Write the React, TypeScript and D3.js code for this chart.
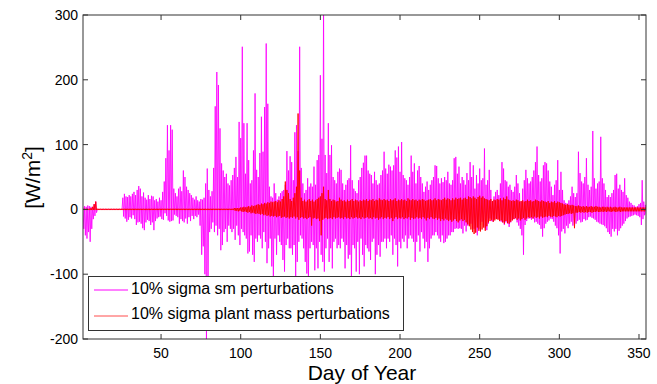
import React from 'react';
import * as d3 from 'd3';

// Daily envelopes (max / min) of the two perturbation series, day 1..354, [W/m^2]
const smMax: number[] = [
  3,5,4,6,5,4,3,8,12,0,
  0,0,0,0,0,0,0,0,0,0,
  0,0,0,0,0,18,24,20,19,22,
  20,24,27,22,30,36,32,20,26,18,
  15,22,16,21,20,14,16,12,18,14,
  27,43,79,130,91,130,123,32,25,20,
  32,35,28,60,50,35,30,25,22,18,
  15,20,14,12,16,15,18,40,63,30,
  20,28,64,159,212,192,125,71,60,50,
  55,40,37,45,53,64,81,50,135,110,
  251,133,55,133,76,40,45,91,179,61,
  50,87,143,89,158,256,163,35,20,18,
  40,25,15,20,25,28,30,38,90,60,
  82,73,45,119,130,90,251,64,40,25,
  30,48,35,40,35,66,38,76,84,207,
  109,320,84,56,133,84,99,50,45,40,
  58,63,61,40,30,38,45,48,99,45,
  32,28,25,45,50,64,72,83,83,60,
  55,53,40,58,45,38,40,53,60,89,
  63,55,69,66,60,68,91,80,97,58,
  104,53,48,45,38,50,83,58,71,40,
  60,67,50,40,27,35,43,30,38,45,
  50,68,67,48,40,48,42,50,45,58,
  40,38,45,79,81,55,66,40,50,45,
  38,56,45,73,50,68,32,53,40,63,
  45,48,94,38,45,61,30,12,20,27,
  30,22,40,73,63,45,43,35,38,30,
  27,35,53,40,25,12,32,45,61,48,
  40,43,50,60,73,97,53,43,48,68,
  73,71,60,43,35,22,38,45,76,30,
  58,30,14,10,9,14,20,35,25,19,
  25,89,56,43,40,50,79,38,30,35,
  121,48,32,40,43,112,48,40,30,19,
  22,19,25,30,53,55,32,38,30,27,
  48,22,18,12,10,7,6,4,5,8,
  10,45,12,7,
];

const smMin: number[] = [
  -30,-40,-45,-35,-50,-30,-15,-10,-5,0,
  0,0,0,0,0,0,0,0,0,0,
  0,0,0,0,0,-11,-14,-19,-16,-12,
  -14,-9,-15,-24,-20,-19,-22,-29,-32,-20,
  -16,-18,-24,-20,-32,-18,-14,-12,-11,-15,
  -16,-6,-10,-17,-19,-18,-17,-8,-10,-12,
  -22,-15,-18,-20,-14,-22,-12,-18,-10,-15,
  -10,-12,-8,-25,-70,-57,-100,-200,-110,-35,
  -30,-20,-35,-25,-40,-30,-63,-55,-35,-30,
  -50,-25,-30,-35,-30,-47,-25,-40,-55,-30,
  -35,-40,-45,-68,-65,-40,-70,-81,-45,-50,
  -40,-45,-60,-35,-50,-83,-60,-45,-88,-110,
  -45,-70,-40,-50,-55,-78,-96,-55,-45,-60,
  -60,-70,-55,-110,-81,-50,-40,-45,-60,-81,
  -99,-110,-60,-50,-55,-94,-60,-91,-50,-70,
  -81,-96,-60,-45,-81,-60,-91,-50,-45,-60,
  -55,-60,-45,-50,-91,-55,-76,-70,-110,-55,
  -60,-96,-50,-100,-45,-70,-88,-55,-60,-65,
  -78,-50,-45,-100,-70,-55,-73,-50,-50,-45,
  -60,-45,-50,-40,-70,-45,-55,-88,-50,-60,
  -45,-50,-40,-60,-45,-40,-45,-50,-81,-50,
  -40,-65,-35,-45,-60,-50,-81,-60,-45,-40,
  -40,-35,-40,-45,-50,-40,-52,-50,-45,-40,
  -40,-35,-35,-30,-29,-30,-29,-30,-37,-25,
  -34,-25,-24,-22,-29,-30,-35,-40,-30,-24,
  -19,-25,-29,-32,-22,-14,-18,-19,-15,-14,
  -15,-18,-19,-20,-24,-20,-22,-27,-20,-16,
  -15,-14,-20,-25,-30,-40,-70,-24,-18,-14,
  -14,-16,-14,-20,-19,-22,-24,-30,-42,-29,
  -22,-19,-17,-14,-15,-19,-25,-29,-40,-68,
  -34,-30,-37,-25,-29,-22,-19,-25,-20,-22,
  -18,-16,-20,-19,-15,-17,-16,-12,-11,-13,
  -14,-16,-19,-20,-22,-23,-24,-26,-29,-35,
  -38,-42,-30,-34,-30,-40,-33,-29,-25,-22,
  -18,-14,-12,-11,-10,-9,-8,-9,-10,-12,
  -24,-15,-9,-8,
];

const pmMax: number[] = [
  1,1,1,1,1,2,4,8,12,1,
  1,1,1,1,1,1,1,1,1,1,
  1,1,1,1,1,1,1,1,1,1,
  1,1,1,1,1,1,1,1,1,1,
  1,1,1,1,1,1,1,1,1,1,
  1,1,1,1,1,1,1,1,1,1,
  1,1,1,1,1,1,1,1,1,1,
  1,1,1,1,1,1,1,1,1,1,
  1,1,1,1,1,1,1,1,1,1,
  1,1,1,1,1,2,2,2,2,3,
  3,4,3,4,5,4,6,5,6,7,
  8,7,9,8,10,9,11,10,12,11,
  12,13,11,14,12,16,20,43,30,25,
  16,13,18,25,35,148,60,18,13,15,
  12,14,16,13,15,12,14,16,18,20,
  25,35,16,14,30,16,13,15,14,12,
  13,18,15,13,14,12,15,13,14,16,
  13,15,14,12,14,13,15,14,16,13,
  15,14,16,13,15,14,17,15,14,16,
  14,15,13,16,14,15,17,13,15,14,
  16,14,15,13,17,15,14,16,14,15,
  13,15,14,16,15,13,14,15,16,14,
  15,17,14,16,15,14,16,18,15,17,
  16,14,17,15,18,16,17,18,15,17,
  18,16,20,19,17,20,18,16,19,21,
  18,20,17,16,15,14,16,13,15,14,
  16,15,17,14,18,16,20,15,14,13,
  14,13,15,14,12,13,14,12,13,15,
  13,14,12,13,15,14,13,12,14,13,
  12,11,13,10,12,11,13,10,12,11,
  10,9,8,7,8,7,6,7,6,5,
  5,6,5,4,5,4,5,4,4,5,
  4,4,5,4,4,3,4,4,3,4,
  3,4,3,3,4,3,3,4,3,3,
  3,3,3,3,3,3,3,3,3,3,
  3,3,3,3,
];

const pmMin: number[] = [
  -1,-1,-1,-1,-1,-1,-1,-1,-1,-1,
  -1,-1,-1,-1,-1,-1,-1,-1,-1,-1,
  -1,-1,-1,-1,-1,-1,-1,-1,-1,-1,
  -1,-1,-1,-1,-1,-1,-1,-1,-1,-1,
  -1,-1,-1,-1,-1,-1,-1,-1,-1,-1,
  -1,-1,-1,-1,-1,-1,-1,-1,-1,-1,
  -1,-1,-1,-1,-1,-1,-1,-1,-1,-1,
  -1,-1,-1,-1,-1,-1,-1,-1,-1,-1,
  -1,-1,-1,-1,-1,-1,-1,-1,-1,-1,
  -1,-1,-1,-1,-1,-2,-2,-3,-2,-3,
  -4,-3,-4,-5,-4,-6,-5,-6,-7,-6,
  -7,-8,-7,-9,-8,-10,-9,-11,-10,-11,
  -10,-12,-11,-10,-13,-12,-11,-13,-12,-14,
  -12,-13,-11,-14,-12,-16,-13,-12,-14,-13,
  -15,-13,-12,-25,-14,-13,-15,-14,-18,-40,
  -16,-14,-13,-15,-14,-13,-15,-12,-14,-13,
  -12,-14,-13,-15,-12,-14,-13,-15,-12,-14,
  -13,-12,-14,-13,-15,-12,-14,-13,-12,-14,
  -13,-15,-12,-14,-13,-16,-14,-12,-15,-13,
  -14,-12,-15,-13,-18,-14,-12,-15,-13,-14,
  -12,-15,-13,-14,-12,-16,-13,-15,-14,-12,
  -14,-13,-15,-12,-14,-17,-13,-15,-12,-14,
  -15,-13,-16,-14,-18,-15,-17,-14,-16,-18,
  -16,-19,-17,-15,-18,-20,-17,-15,-18,-16,
  -20,-23,-26,-31,-35,-38,-36,-28,-33,-34,
  -31,-28,-33,-26,-20,-18,-16,-19,-17,-15,
  -16,-18,-17,-20,-22,-18,-21,-22,-19,-17,
  -15,-13,-16,-14,-17,-15,-13,-16,-14,-12,
  -13,-12,-14,-11,-13,-12,-14,-11,-13,-12,
  -11,-12,-10,-11,-12,-10,-11,-12,-10,-11,
  -10,-9,-8,-7,-7,-6,-7,-6,-29,-5,
  -5,-4,-5,-4,-5,-4,-5,-4,-4,-5,
  -4,-4,-3,-4,-4,-3,-4,-3,-4,-3,
  -3,-4,-3,-3,-4,-3,-3,-4,-3,-3,
  -3,-3,-3,-3,-3,-3,-3,-3,-3,-3,
  -3,-3,-3,-3,
];

const xTicks = [50, 100, 150, 200, 250, 300, 350];
const yTicks = [-200, -100, 0, 100, 200, 300];
const seriesNames = ['10% sigma sm perturbations', '10% sigma plant mass perturbations'];
const seriesColors = ['#ff00ff', '#ff0000'];

const W = 657, H = 384;
const L = 83, R = 646, T = 15, B = 339;
const FONT = '"Liberation Sans", Arial, Helvetica, sans-serif';
const AX = '#333333';

export default function App() {
  const x = d3.scaleLinear().domain([1, 354.4]).range([L, R]);
  const y = d3.scaleLinear().domain([-200, 300]).range([B, T]);

  const zig = (mx: number[], mn: number[]) => {
    const pts: [number, number][] = [];
    mx.forEach((v, i) => {
      const d = i + 1;
      pts.push([d, v]);
      pts.push([d + 0.5, mn[i]]);
    });
    return d3.line<[number, number]>().x(p => x(p[0])).y(p => y(p[1]))(pts) || '';
  };

  return (
    <svg width={W} height={H} style={{ position: 'absolute', left: 0, top: 0, background: '#fff' }}
      fontFamily={FONT}>
      <defs>
        <clipPath id="plotclip">
          <rect x={L} y={T} width={R - L} height={B - T} />
        </clipPath>
      </defs>
      <rect x={0} y={0} width={W} height={H} fill="#fff" />
      <g clipPath="url(#plotclip)">
        <path d={zig(smMax, smMin)} fill="none" stroke={seriesColors[0]} strokeWidth={0.85} />
        <path d={zig(pmMax, pmMin)} fill="none" stroke={seriesColors[1]} strokeWidth={0.9} />
      </g>
      {/* box */}
      <rect x={L} y={T} width={R - L} height={B - T} fill="none" stroke={AX} strokeWidth={1} />
      {xTicks.map(t => (
        <g key={'x' + t}>
          <line x1={x(t)} x2={x(t)} y1={B} y2={B - 5} stroke={AX} />
          <line x1={x(t)} x2={x(t)} y1={T} y2={T + 5} stroke={AX} />
          <text x={x(t)} y={357.5} textAnchor="middle" fontSize={14} fill="#000">{t}</text>
        </g>
      ))}
      {yTicks.map(t => (
        <g key={'y' + t}>
          <line x1={L} x2={L + 5} y1={y(t)} y2={y(t)} stroke={AX} />
          <line x1={R} x2={R - 5} y1={y(t)} y2={y(t)} stroke={AX} />
          <text x={78} y={y(t) + 5} textAnchor="end" fontSize={14} fill="#000">{t}</text>
        </g>
      ))}
      <text x={362} y={379.5} textAnchor="middle" fontSize={21} fill="#000">Day of Year</text>
      <text transform="translate(40,177.5) rotate(-90)" textAnchor="middle" fontSize={21} fill="#000">
        [W/m<tspan fontSize={14} dy={-8}>2</tspan><tspan dy={8}>]</tspan>
      </text>
      {/* legend */}
      <rect x={88.5} y={276.5} width={315} height={54} fill="#fff" stroke={AX} strokeWidth={1} />
      {seriesNames.map((n, i) => (
        <g key={n}>
          <line x1={94} x2={128} y1={290 + i * 26} y2={290 + i * 26} stroke={seriesColors[i]}
            strokeWidth={1} strokeOpacity={i === 1 ? 0.7 : 1} />
          <text x={131} y={293.5 + i * 25} fontSize={16} fill="#000">{n}</text>
        </g>
      ))}
    </svg>
  );
}
